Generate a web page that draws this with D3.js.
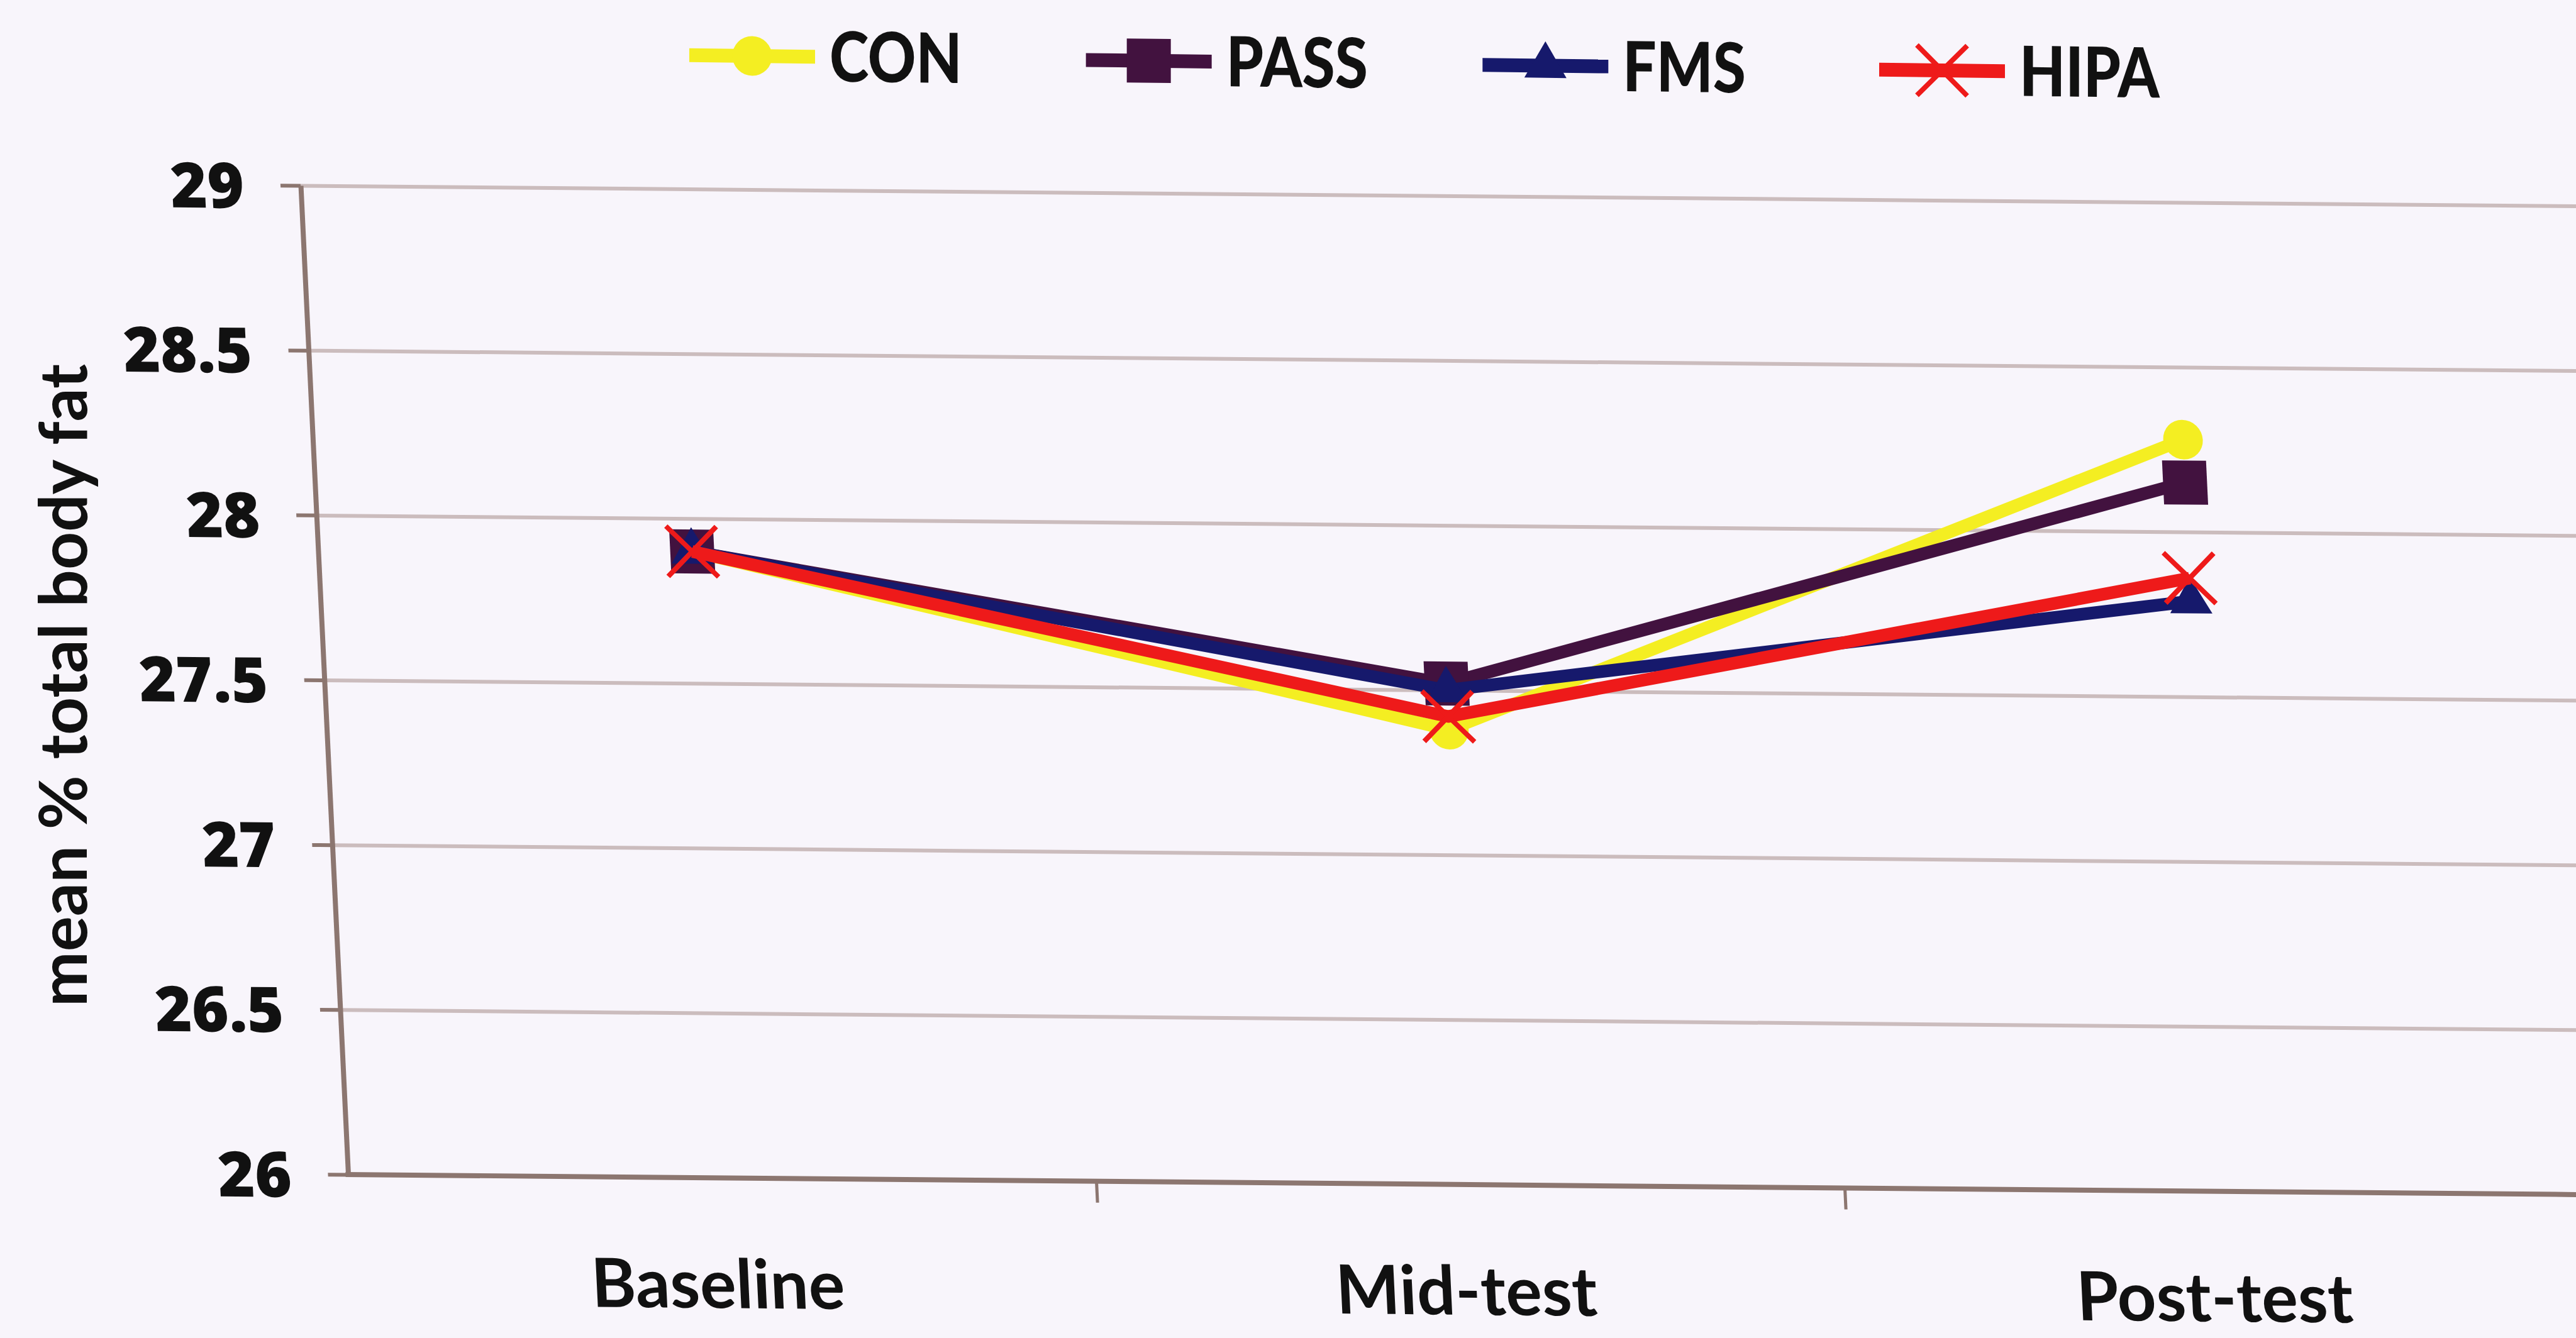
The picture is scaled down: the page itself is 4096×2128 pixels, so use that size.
<!DOCTYPE html>
<html>
<head>
<meta charset="utf-8">
<script src="https://cdn.jsdelivr.net/npm/d3@7.9.0/dist/d3.min.js"></script>
<style>
  html, body { margin: 0; padding: 0; background: #f8f5fb; }
  svg { display: block; }
</style>
</head>
<body>
<div id="chart"></div>
<script>
const categories = ['Baseline', 'Mid-test', 'Post-test'];
const seriesNames = ['CON', 'PASS', 'FMS', 'HIPA'];
const conValues = [27.9, 27.38, 28.28];
const passValues = [27.9, 27.52, 28.15];
const fmsValues = [27.9, 27.50, 27.79];
const hipaValues = [27.9, 27.42, 27.86];
const yTicks = [26, 26.5, 27, 27.5, 28, 28.5, 29];
const yTitle = 'mean % total body fat';

const seriesValues = [conValues, passValues, fmsValues, hipaValues];
const colors = ['#f4ee22', '#42123f', '#16196c', '#ee1a1a'];
const shapes = ['circle', 'square', 'triangle', 'x'];

const width = 4096, height = 2128;
const plot = { left: 478, top: 295, bottom: 1868, right: 4048 };
// the scan is a little sheared: verticals lean right, horizontals drop
const shearX = 0.048, shearY = 0.009;

const svg = d3.select('#chart').append('svg')
  .attr('width', width).attr('height', height)
  .attr('viewBox', `0 0 ${width} ${height}`);

svg.append('rect').attr('width', width).attr('height', height).attr('fill', '#f8f5fb');

const x = d3.scaleBand().domain(categories).range([plot.left, plot.right]).padding(0);
const y = d3.scaleLinear().domain([26, 29]).range([plot.bottom, plot.top]);

const g = svg.append('g')
  .attr('transform', `matrix(1,${shearY},${shearX},1,${-shearX * plot.top},${-shearY * plot.left})`);

// gridlines
g.append('g')
  .attr('transform', `translate(${plot.left},0)`)
  .call(d3.axisLeft(y).tickValues(yTicks.filter(d => d > 26)).tickFormat('').tickSize(-(4250 - plot.left)).tickSizeOuter(0))
  .call(a => a.select('.domain').remove())
  .call(a => a.selectAll('line').attr('stroke', '#cbbcbd').attr('stroke-width', 6));

// y axis
g.append('g')
  .attr('transform', `translate(${plot.left},0)`)
  .call(d3.axisLeft(y).tickValues(yTicks).tickFormat(d3.format('~')).tickSize(32).tickSizeOuter(0).tickPadding(58))
  .call(a => a.select('.domain').attr('stroke', '#8c7670').attr('stroke-width', 8))
  .call(a => a.selectAll('line').attr('stroke', '#8c7670').attr('stroke-width', 6))
  .call(a => a.selectAll('text')
    .attr('fill', '#111')
    .attr('dy', '0.36em')
    .style('font-family', '"Open Sans", sans-serif')
    .style('font-weight', 800)
    .style('font-size', '100px'));

// x axis line and boundary ticks
g.append('line')
  .attr('x1', plot.left - 4).attr('x2', 4250)
  .attr('y1', y(26)).attr('y2', y(26))
  .attr('stroke', '#8c7670').attr('stroke-width', 8);

g.append('g').selectAll('line')
  .data(categories.slice(1))
  .join('line')
  .attr('x1', d => x(d)).attr('x2', d => x(d))
  .attr('y1', y(26)).attr('y2', y(26) + 34)
  .attr('stroke', '#8c7670').attr('stroke-width', 5);

g.append('g').selectAll('text')
  .data(categories)
  .join('text')
  .attr('x', d => x(d) + x.bandwidth() / 2 - 15)
  .attr('y', y(26) + 207)
  .attr('text-anchor', 'middle')
  .attr('fill', '#111')
  .style('font-family', 'Lato, sans-serif')
  .style('font-weight', 700)
  .style('font-size', '108px')
  .text(d => d);

function markerPath(shape) {
  if (shape === 'circle') return d3.symbol(d3.symbolCircle, 3117)();
  if (shape === 'square') return d3.symbol(d3.symbolSquare, 4900)();
  if (shape === 'triangle') return d3.symbol(d3.symbolTriangle, 1944)();
  const h = 40;
  return `M${-h},${-h}L${h},${h}M${-h},${h}L${h},${-h}`;
}

function drawMarker(sel, i) {
  const p = sel.append('path').attr('d', markerPath(shapes[i]));
  if (shapes[i] === 'x') p.attr('fill', 'none').attr('stroke', colors[i]).attr('stroke-width', 8);
  else p.attr('fill', colors[i]);
}

const line = d3.line()
  .x((d, j) => x(categories[j]) + x.bandwidth() / 2)
  .y(d => y(d));

seriesValues.forEach((vals, i) => {
  const s = g.append('g').attr('class', 'series');
  s.append('path')
    .attr('d', line(vals))
    .attr('fill', 'none')
    .attr('stroke', colors[i])
    .attr('stroke-width', 20)
    .attr('stroke-linejoin', 'round');
  vals.forEach((v, j) => {
    const m = s.append('g')
      .attr('transform', `translate(${x(categories[j]) + x.bandwidth() / 2},${y(v)})`);
    drawMarker(m, i);
  });
});

// y title
svg.append('text')
  .attr('transform', 'translate(138,1090) rotate(-90)')
  .attr('text-anchor', 'middle')
  .attr('fill', '#111')
  .style('font-family', 'Lato, sans-serif')
  .style('font-weight', 700)
  .style('font-size', '105px')
  .text(yTitle);

// legend
const legendX = d3.scalePoint().domain(seriesNames).range([1196, 3088]);
const legend = svg.append('g')
  .attr('transform', `matrix(1,0.0122,0,1,0,${89 - 0.0122 * 1196})`);

seriesNames.forEach((name, i) => {
  const item = legend.append('g').attr('transform', `translate(${legendX(name)},0)`);
  item.append('line')
    .attr('x1', -100).attr('x2', 100)
    .attr('stroke', colors[i]).attr('stroke-width', 22);
  drawMarker(item, i);
  item.append('text')
    .attr('transform', 'translate(123,39) scale(0.86,1)')
    .attr('fill', '#111')
    .style('font-family', 'Lato, sans-serif')
    .style('font-weight', 900)
    .style('font-size', '110px')
    .text(name);
});
</script>
</body>
</html>
